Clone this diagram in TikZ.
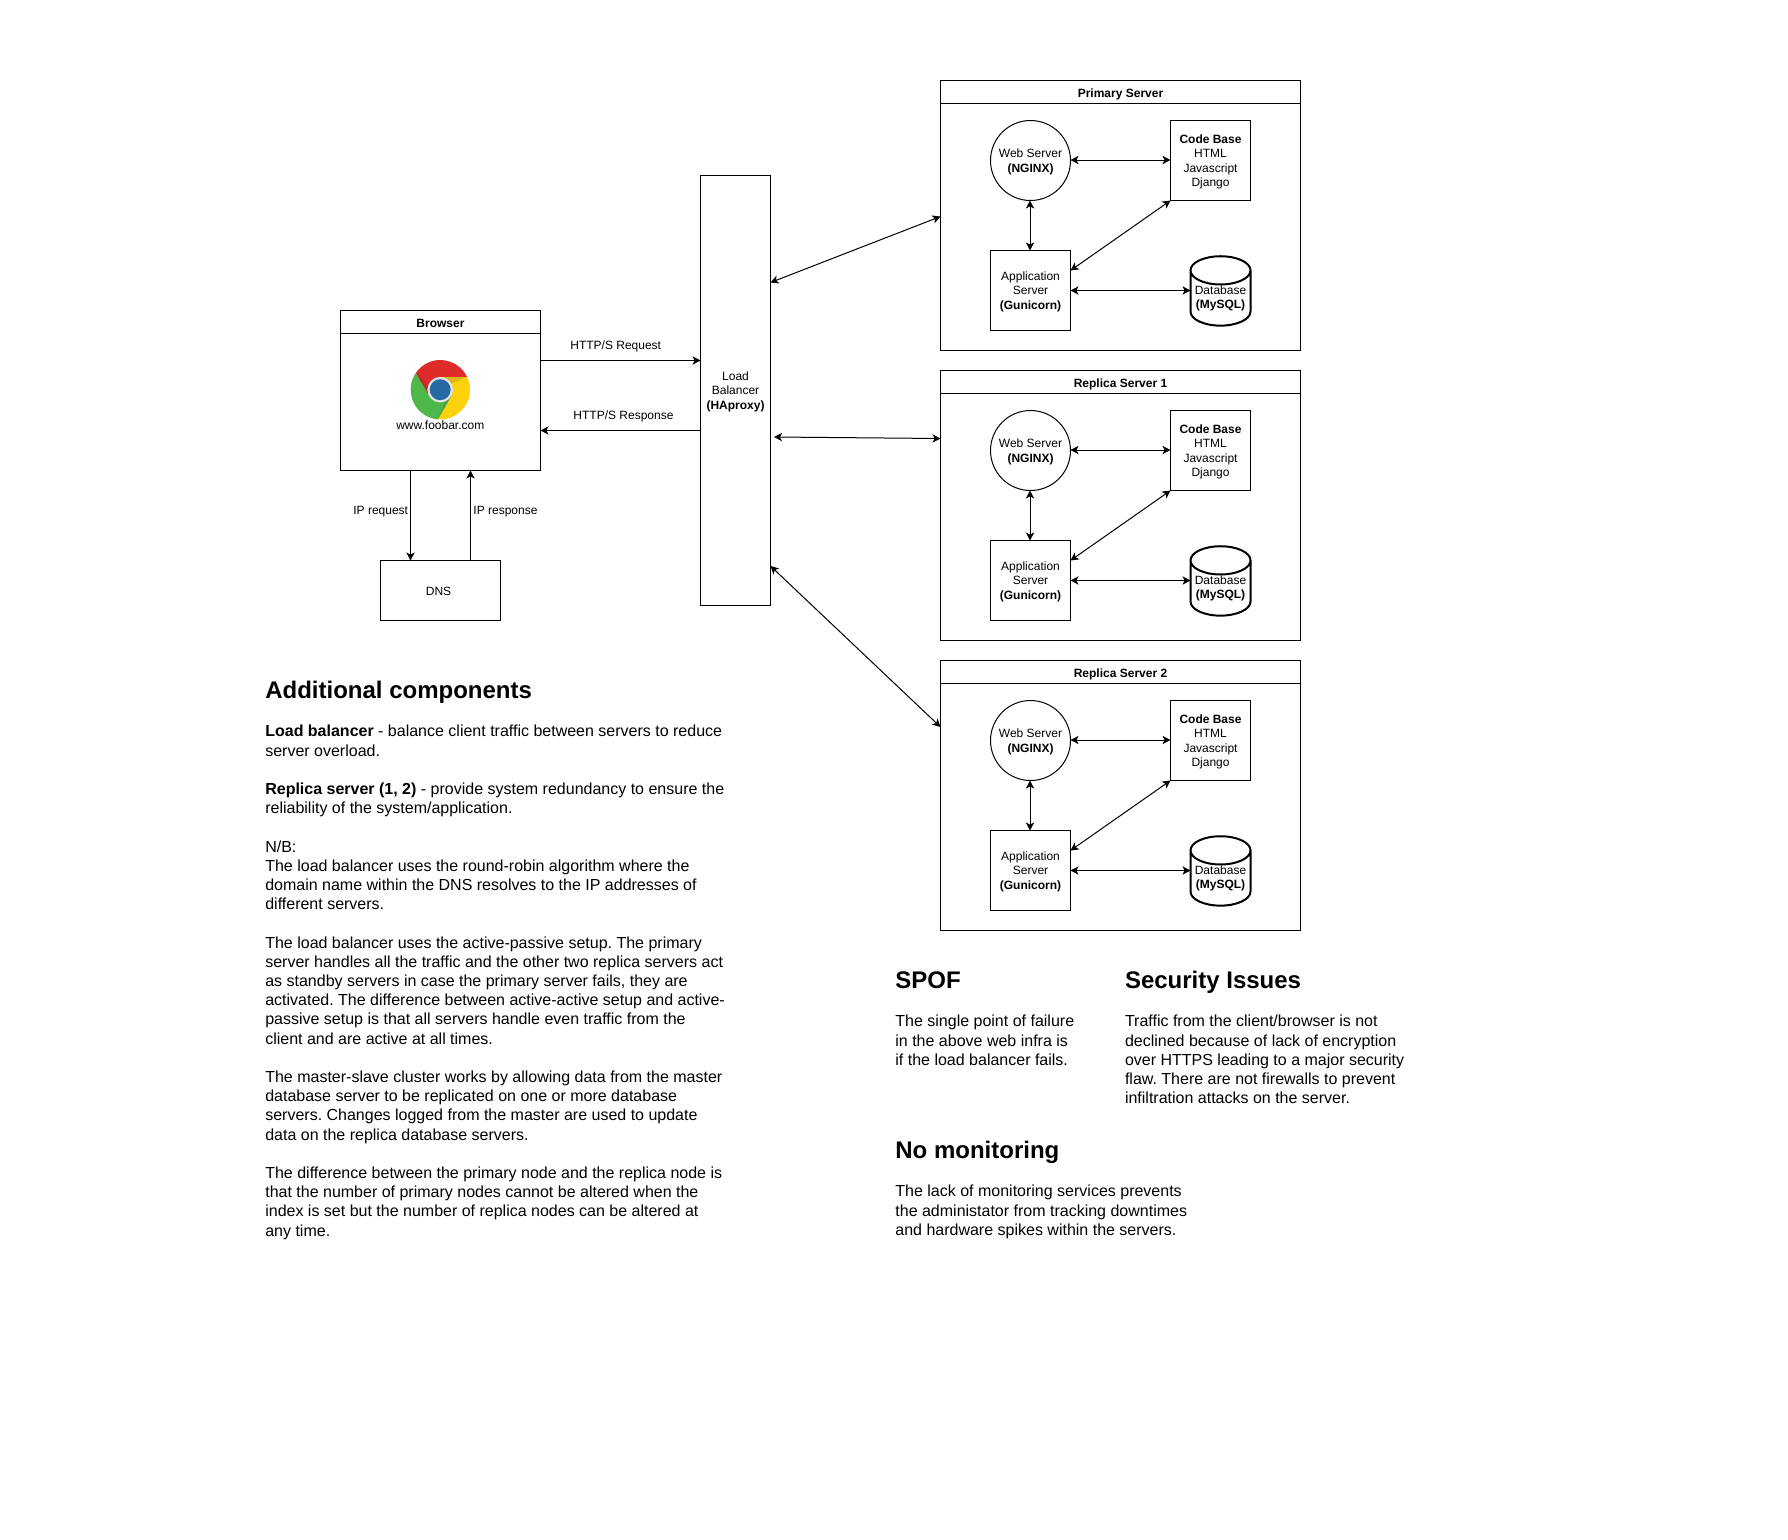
\documentclass[tikz,border=0pt]{standalone}
\usepackage{fontspec}
\usepackage{tikz}
\usepackage{xcolor}
\usetikzlibrary{positioning,shapes,arrows.meta}
\setmainfont{Liberation Sans}
\frenchspacing
\newcommand{\leadline}{\rule{0pt}{8.7pt}}
\definecolor{chromered}{HTML}{E02B2B}
\definecolor{chromedred}{HTML}{C42A2A}
\definecolor{chromegreen}{HTML}{4DB749}
\definecolor{chromedgreen}{HTML}{439F44}
\definecolor{chromeyellow}{HTML}{FDD20A}
\definecolor{chromedyellow}{HTML}{DFB315}
\definecolor{chromeblue}{HTML}{2569A5}
\definecolor{chromering}{HTML}{E3E3E3}

\begin{document}
\begin{tikzpicture}[x=0.75pt,y=0.75pt]
\tikzstyle{every node}=[inner sep=0pt,outer sep=0pt,line width=0.75pt,font=\fontsize{9pt}{10.8pt}\selectfont,align=center,execute at begin node={\rule{0pt}{10.1pt}},execute at end node={\rule[-2.2pt]{0pt}{2.2pt}}]
\tikzstyle{every path}=[line width=0.75pt]
\tikzstyle{link}=[<->,>={Stealth[length=6pt,width=6.2pt,inset=1.6pt]}]
\tikzstyle{oneway}=[-{Stealth[length=6pt,width=6.2pt,inset=1.6pt]}]
\tikzstyle{box}=[draw,rectangle,minimum width=60pt,minimum height=60pt]
\tikzstyle{webnode}=[draw,circle,minimum size=60pt]
\tikzstyle{dbnode}=[draw,cylinder,shape border rotate=90,aspect=0.55,minimum width=45pt,minimum height=48.2pt,line width=1.5pt]
\tikzstyle{server}=[draw,rectangle,minimum width=270pt,minimum height=202.5pt]
\tikzstyle{header}=[draw,rectangle,minimum width=270pt,minimum height=17.25pt,font=\fontsize{9pt}{10.8pt}\selectfont\bfseries]
\tikzstyle{heading}=[anchor=base west,font=\fontsize{18pt}{21.6pt}\selectfont\bfseries,execute at begin node={},execute at end node={}]
\tikzstyle{para}=[anchor=north west,align=left,font=\fontsize{12pt}{14.4pt}\selectfont,execute at begin node={},execute at end node={}]
\useasboundingbox (0,0) rectangle (1788,-1539);

\draw (440.5,-390.5) node (browser) [draw,rectangle,minimum width=150pt,minimum height=120pt] {};
\draw (440.5,-322) node (browserhead) [draw,rectangle,minimum width=150pt,minimum height=17.25pt,font=\fontsize{9pt}{10.8pt}\selectfont\bfseries] {Browser};
\fill [chromered] (440.3,-377) -- (467.15,-377) arc (25.3:145.3:29.7) -- (429.3,-396.05) -- cycle;
\fill [chromegreen] (415.9,-372.8) arc (145.3:265.3:29.7) -- (451.3,-396.05) -- (429.3,-396.05) -- cycle;
\fill [chromeyellow] (437.9,-419.3) arc (265.3:385.3:29.7) -- (440.3,-377) -- (451.3,-396.05) -- cycle;
\fill [chromedyellow] (445,-377) -- (466,-377) -- (451,-384) -- cycle;
\fill [chromedgreen] (437.9,-419.3) -- (451.3,-396.05) -- (446,-399) -- cycle;
\fill [chromedred] (415.9,-372.8) -- (429.3,-396.05) -- (428,-385) -- cycle;
\fill [chromering] (440.2,-389.7) circle (12.8);
\fill [chromeblue] (440.2,-389.7) circle (10.5);
\draw (440.3,-429) node (site) [anchor=base] {www.foobar.com};

\draw (440.5,-590.5) node (dns) [draw,rectangle,minimum width=90pt,minimum height=45pt] {DNS\kern3pt};
\draw (735.5,-390.5) node (lb) [draw,rectangle,minimum width=52.5pt,minimum height=322.5pt] {\leadline Load\\Balancer\\\textbf{(HAproxy)}};

\draw [oneway] (browser.east |- 0,-360.5) -- (lb.west |- 0,-360.5);
\draw (615.7,-349) node (reqlabel) [anchor=base] {HTTP/S Request};
\draw [oneway] (lb.west |- 0,-430.5) -- (browser.east |- 0,-430.5);
\draw (623.5,-419) node (resplabel) [anchor=base] {HTTP/S Response};
\draw [oneway] (browser.south -| 410.5,0) -- (dns.north -| 410.5,0);
\draw (380.7,-514) node (iplabel) [anchor=base] {IP request};
\draw [oneway] (dns.north -| 470.5,0) -- (browser.south -| 470.5,0);
\draw (505.5,-514) node (ansulabel) [anchor=base] {IP response};

\draw (1120.5,-215.5) node (srv0) [server] {};
\draw (1120.5,-92) node (head0) [header] {Primary Server};
\draw (1030.5,-160.5) node (web0) [webnode] {\leadline Web Server\\\textbf{(NGINX)}};
\draw (1210.5,-160.5) node (code0) [box] {\leadline\textbf{Code Base}\\HTML\\Javascript\\Django};
\draw (1030.5,-290.5) node (app0) [box] {\leadline Application\\Server\\\textbf{(Gunicorn)}};
\draw (1220.5,-298.5) node (db0) [dbnode] {Database\\\textbf{(MySQL)}};
\draw [link] (web0.east |- 0,-160) -- (code0.west |- 0,-160);
\draw [link] (web0.south -| 1030,0) -- (app0.north -| 1030,0);
\draw [link] (app0.east |- 0,-270.5) -- (code0.south west);
\draw [link] (app0.east |- 0,-290.5) -- (db0.west |- 0,-290.5);

\draw (1120.5,-505.5) node (srv1) [server] {};
\draw (1120.5,-382) node (head1) [header] {Replica Server 1};
\draw (1030.5,-450.5) node (web1) [webnode] {\leadline Web Server\\\textbf{(NGINX)}};
\draw (1210.5,-450.5) node (code1) [box] {\leadline\textbf{Code Base}\\HTML\\Javascript\\Django};
\draw (1030.5,-580.5) node (app1) [box] {\leadline Application\\Server\\\textbf{(Gunicorn)}};
\draw (1220.5,-588.5) node (db1) [dbnode] {Database\\\textbf{(MySQL)}};
\draw [link] (web1.east |- 0,-450) -- (code1.west |- 0,-450);
\draw [link] (web1.south -| 1030,0) -- (app1.north -| 1030,0);
\draw [link] (app1.east |- 0,-560.5) -- (code1.south west);
\draw [link] (app1.east |- 0,-580.5) -- (db1.west |- 0,-580.5);

\draw (1120.5,-795.5) node (srv2) [server] {};
\draw (1120.5,-672) node (head2) [header] {Replica Server 2};
\draw (1030.5,-740.5) node (web2) [webnode] {\leadline Web Server\\\textbf{(NGINX)}};
\draw (1210.5,-740.5) node (code2) [box] {\leadline\textbf{Code Base}\\HTML\\Javascript\\Django};
\draw (1030.5,-870.5) node (app2) [box] {\leadline Application\\Server\\\textbf{(Gunicorn)}};
\draw (1220.5,-878.5) node (db2) [dbnode] {Database\\\textbf{(MySQL)}};
\draw [link] (web2.east |- 0,-740) -- (code2.west |- 0,-740);
\draw [link] (web2.south -| 1030,0) -- (app2.north -| 1030,0);
\draw [link] (app2.east |- 0,-850.5) -- (code2.south west);
\draw [link] (app2.east |- 0,-870.5) -- (db2.west |- 0,-870.5);

\coordinate (gap1) at (774,-437);
\draw [link] (lb.east |- 0,-282.5) -- (srv0.west |- 0,-216.5);
\draw [link] (gap1) -- (srv1.west |- 0,-438.5);
\draw [link] (lb.east |- 0,-566) -- (srv2.west |- 0,-727);

\draw (265.3,-698) node (addhead) [heading] {Additional components};
\draw (265.3,-725.2) node (addbody) [para] {\textbf{Load balancer} - balance client traffic between servers to reduce\\server overload.\\[14.4pt]
\textbf{Replica server (1, 2)} - provide system redundancy to ensure the\\reliability of the system/application.\\[14.4pt]
N/B:\\The load balancer uses the round-robin algorithm where the\\domain name within the DNS resolves to the IP addresses of\\different servers.\\[14.4pt]
The load balancer uses the active-passive setup. The primary\\server handles all the traffic and the other two replica servers act\\as standby servers in case the primary server fails, they are\\activated. The difference between active-active setup and active-\\passive setup is that all servers handle even traffic from the\\client and are active at all times.\\[14.4pt]
The master-slave cluster works by allowing data from the master\\database server to be replicated on one or more database\\servers. Changes logged from the master are used to update\\data on the replica database servers.\\[14.4pt]
The difference between the primary node and the replica node is\\that the number of primary nodes cannot be altered when the\\index is set but the number of replica nodes can be altered at\\any time.};

\draw (895.4,-988.3) node (spofhead) [heading] {SPOF};
\draw (895.4,-1015.2) node (spofbody) [para] {The single point of failure\\in the above web infra is\\if the load balancer fails.};
\draw (1125,-988.3) node (sechead) [heading] {Security Issues};
\draw (1125,-1015.2) node (secbody) [para] {Traffic from the client/browser is not\\declined because of lack of encryption\\over HTTPS leading to a major security\\flaw. There are not firewalls to prevent\\infiltration attacks on the server.};
\draw (895.4,-1158.3) node (monhead) [heading] {No monitoring};
\draw (895.4,-1185.2) node (monbody) [para] {The lack of monitoring services prevents\\the administator from tracking downtimes\\and hardware spikes within the servers.};
\end{tikzpicture}
\end{document}
